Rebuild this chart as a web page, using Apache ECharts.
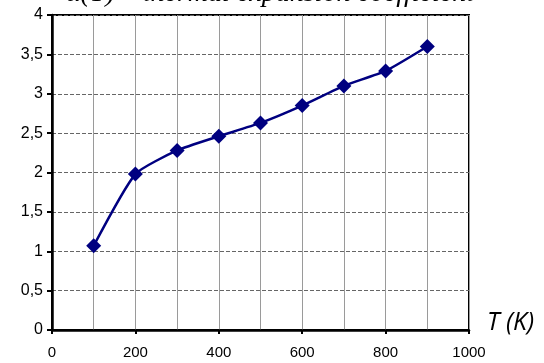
<!DOCTYPE html>
<html>
<head>
<meta charset="utf-8">
<script src="https://cdn.jsdelivr.net/npm/echarts@6/dist/echarts.min.js"></script>
<style>
  html, body { margin: 0; padding: 0; background: #fff; }
  #chart { width: 544px; height: 363px; }
</style>
</head>
<body>
<div id="chart"></div>
<script>
// Temperature (K) and thermal expansion coefficient values
const temperatures = [100, 200, 300, 400, 500, 600, 700, 800, 900];
const alphaValues = [1.07, 1.98, 2.28, 2.46, 2.63, 2.85, 3.10, 3.29, 3.60];
const yTickLabels = ['0', '0,5', '1', '1,5', '2', '2,5', '3', '3,5', '4'];
const xTickLabels = ['0', '200', '400', '600', '800', '1000'];

const chart = echarts.init(document.getElementById('chart'), null, { renderer: 'canvas' });

const points = temperatures.map((t, i) => [t, alphaValues[i]]);

chart.setOption({
  animation: false,
  backgroundColor: '#ffffff',
  grid: {
    left: 52, right: 75, top: 15, bottom: 33,
    show: true, borderColor: '#000', borderWidth: 2, backgroundColor: 'transparent'
  },
  graphic: [
    {
      type: 'text', right: 70, top: -20,
      style: {
        text: 'α(T) – thermal expansion coefficient',
        font: 'italic 28px "Liberation Serif", "DejaVu Serif", serif',
        fill: '#000'
      }
    },
    {
      type: 'text', left: 487, top: 310,
      style: {
        text: 'T (K)',
        font: 'italic 25px "Open Sans", "Liberation Sans", sans-serif',
        fill: '#000'
      }
    }
  ],
  xAxis: {
    type: 'value', min: 0, max: 1000, interval: 200,
    axisLine: { show: true, lineStyle: { color: '#000', width: 2.5 } },
    axisTick: { show: true, length: 4, lineStyle: { color: '#000', width: 2 } },
    axisLabel: {
      color: '#000', fontSize: 15, margin: 15,
      fontFamily: '"Liberation Sans", Arial, sans-serif',
      formatter: (v) => xTickLabels[Math.round(v / 200)]
    },
    splitLine: { show: true, lineStyle: { color: '#9a9a9a', width: 1 } },
    minorTick: { show: false, splitNumber: 2 },
    minorSplitLine: { show: true, lineStyle: { color: '#9a9a9a', width: 1 } }
  },
  yAxis: {
    type: 'value', min: 0, max: 4, interval: 0.5,
    axisLine: { show: true, lineStyle: { color: '#000', width: 2.5 } },
    axisTick: { show: true, length: 5, lineStyle: { color: '#000', width: 2 } },
    axisLabel: {
      color: '#000', fontSize: 16, margin: 9,
      fontFamily: '"Liberation Sans", Arial, sans-serif',
      formatter: (v) => yTickLabels[Math.round(v * 2)]
    },
    splitLine: { show: true, lineStyle: { color: '#666', width: 1, type: [4, 2] } }
  },
  series: [{
    type: 'line',
    data: points,
    smooth: 0.18,
    symbol: 'diamond',
    symbolSize: 15,
    lineStyle: { color: '#000080', width: 2.5 },
    itemStyle: { color: '#000080' }
  }]
});
</script>
</body>
</html>
